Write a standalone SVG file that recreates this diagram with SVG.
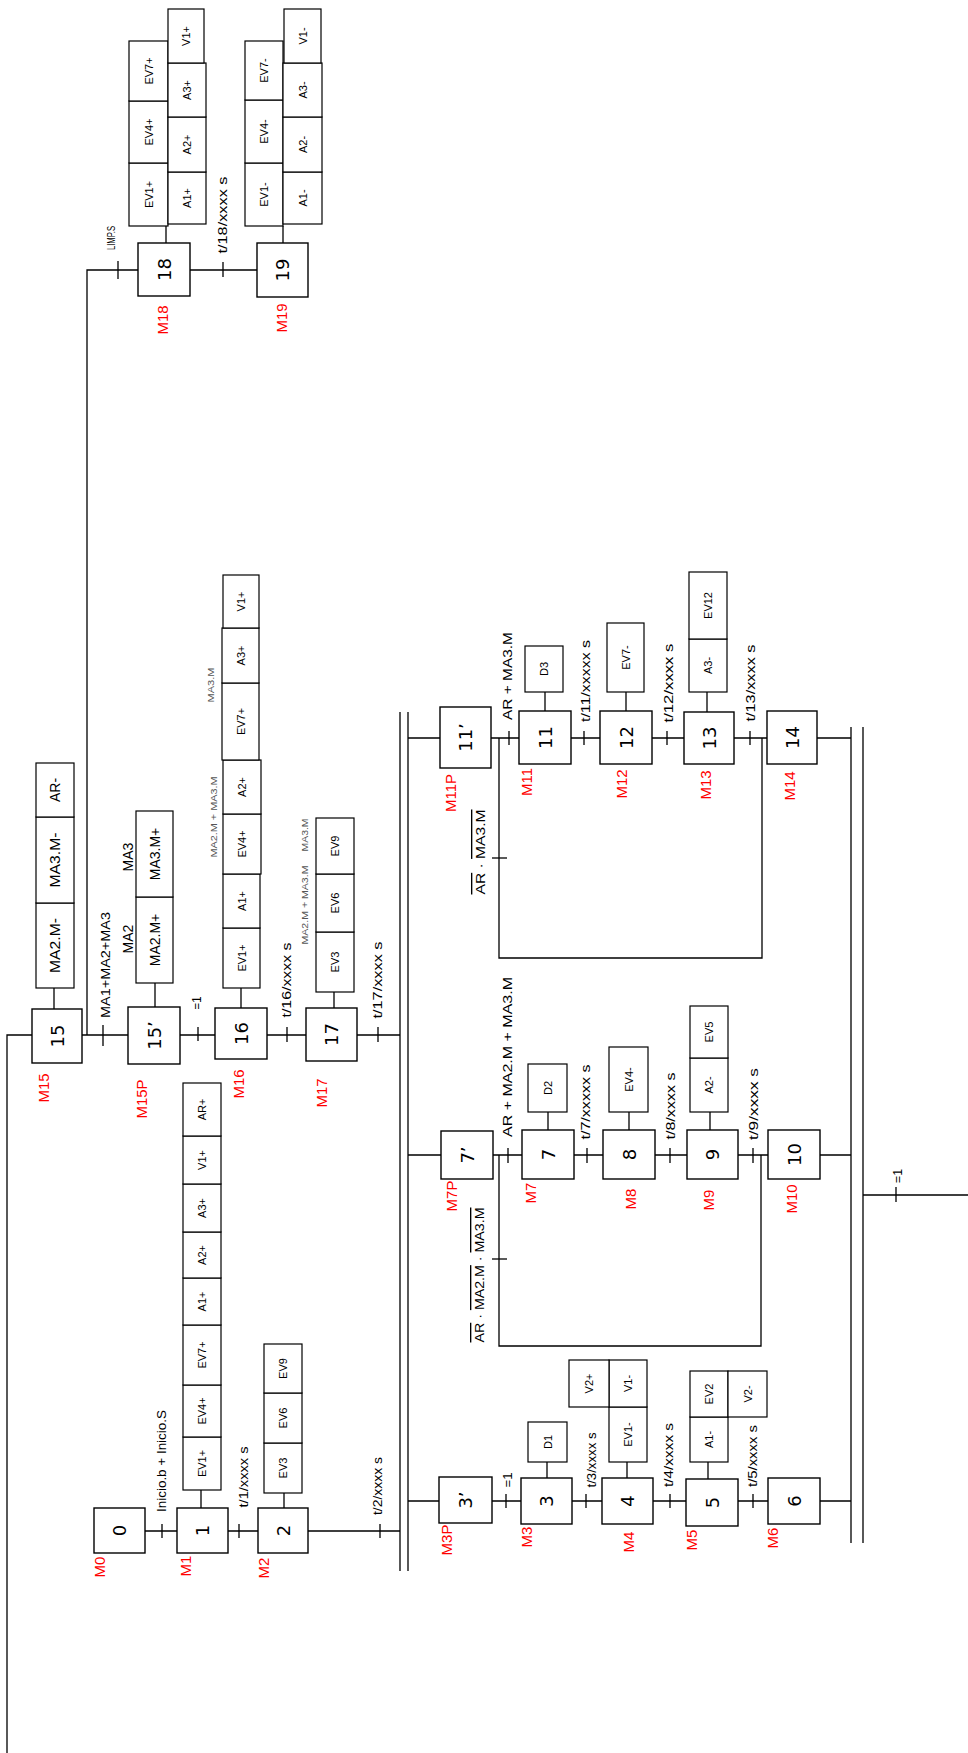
<svg xmlns="http://www.w3.org/2000/svg" width="968" height="1753" viewBox="0 0 968 1753">
<style>
.bg{fill:#fff}
.s{fill:#fff;stroke:#000;stroke-width:1.4}
.a{fill:#fff;stroke:#000;stroke-width:1.2}
.l{fill:none;stroke:#000;stroke-width:1.3}
text{font-family:"Liberation Sans",Arial,sans-serif;text-anchor:middle;dominant-baseline:central;fill:#000}
.n{font-family:"DejaVu Sans",sans-serif;font-size:18px}
.at{font-size:11px}
.ab{font-size:14px}
.c{font-size:13.5px}
.m{font-size:15px;fill:#ff0000}
.sm{font-size:8.5px;fill:#555}
.lp{font-size:10px}
.ov{text-decoration:overline}
</style>
<rect class="bg" x="0" y="0" width="968" height="1753"/>

<g id="connectors">
  <path class="l" d="M145,1531H177M228,1531H258M308,1531H400"/>
  <path class="l" d="M162,1524V1538M239,1524V1538M380,1524V1538"/>
  <path class="l" d="M400,712V1571M408,712V1571"/>
  <path class="l" d="M408,1501H439M492,1501H521M572,1501H602M653,1501H686M738,1501H768M820,1501H851"/>
  <path class="l" d="M506,1494V1508M586,1494V1508M670,1494V1508M753,1494V1508"/>
  <path class="l" d="M408,1155H441M493,1155H522M574,1155H603M655,1155H687M738,1155H768M820,1155H851"/>
  <path class="l" d="M508,1148V1163M587,1148V1163M670,1148V1163M753,1148V1163"/>
  <path class="l" d="M499,1155V1346H761V1155"/>
  <path class="l" d="M492,1259H507"/>
  <path class="l" d="M408,738H440M491,738H519M571,738H600M652,738H684M734,738H767M817,738H851"/>
  <path class="l" d="M509,731V745M584,731V745M667,731V745M750,731V745"/>
  <path class="l" d="M499,738V958H762V738"/>
  <path class="l" d="M492,858H507"/>
  <path class="l" d="M851,727V1543M863,727V1543"/>
  <path class="l" d="M863,1195H968M896,1187V1202"/>
  <path class="l" d="M32,1035H7V1753"/>
  <path class="l" d="M82,1035H128M180,1035H215M267,1035H306M357,1035H400"/>
  <path class="l" d="M103,1025V1046M198,1027V1041M287,1027V1042M378,1027V1042"/>
  <path class="l" d="M87,1035V270H138M118,261V279"/>
  <path class="l" d="M190,270H257M223,262V277"/>
</g>

<g id="labels">
  <text class="c" transform="translate(161,1461) rotate(-90)" textLength="102" lengthAdjust="spacingAndGlyphs">Inicio.b + Inicio.S</text>
  <text class="c" transform="translate(243,1477) rotate(-90)" textLength="61" lengthAdjust="spacingAndGlyphs">t/1/xxxx s</text>
  <text class="c" transform="translate(377,1486) rotate(-90)" textLength="58" lengthAdjust="spacingAndGlyphs">t/2/xxxx s</text>
  <text class="c" transform="translate(507,1480) rotate(-90)" textLength="15" lengthAdjust="spacingAndGlyphs">=1</text>
  <text class="c" transform="translate(591,1460) rotate(-90)" textLength="55" lengthAdjust="spacingAndGlyphs">t/3/xxxx s</text>
  <text class="c" transform="translate(668,1455) rotate(-90)" textLength="64" lengthAdjust="spacingAndGlyphs">t/4/xxxx s</text>
  <text class="c" transform="translate(752,1456) rotate(-90)" textLength="62" lengthAdjust="spacingAndGlyphs">t/5/xxxx s</text>
  <text class="c" transform="translate(897,1176) rotate(-90)" textLength="14" lengthAdjust="spacingAndGlyphs">=1</text>
  <text class="c" transform="translate(507,1057) rotate(-90)" textLength="160" lengthAdjust="spacingAndGlyphs">AR + MA2.M + MA3.M</text>
  <text class="c" transform="translate(585,1102) rotate(-90)" textLength="75" lengthAdjust="spacingAndGlyphs">t/7/xxxxx s</text>
  <text class="c" transform="translate(670,1106) rotate(-90)" textLength="67" lengthAdjust="spacingAndGlyphs">t/8/xxxx s</text>
  <text class="c" transform="translate(753,1104) rotate(-90)" textLength="72" lengthAdjust="spacingAndGlyphs">t/9/xxxx s</text>
  <text class="c" transform="translate(479,1275) rotate(-90)" textLength="135" lengthAdjust="spacingAndGlyphs"><tspan class="ov">AR</tspan> · <tspan class="ov">MA2.M</tspan> · <tspan class="ov">MA3.M</tspan></text>
  <text class="c" transform="translate(480,852) rotate(-90)" textLength="85" lengthAdjust="spacingAndGlyphs"><tspan class="ov">AR</tspan> · <tspan class="ov">MA3.M</tspan></text>
  <text class="c" transform="translate(507,676) rotate(-90)" textLength="88" lengthAdjust="spacingAndGlyphs">AR + MA3.M</text>
  <text class="c" transform="translate(585,681) rotate(-90)" textLength="82" lengthAdjust="spacingAndGlyphs">t/11/xxxxx s</text>
  <text class="c" transform="translate(668,683) rotate(-90)" textLength="79" lengthAdjust="spacingAndGlyphs">t/12/xxxx s</text>
  <text class="c" transform="translate(750,683) rotate(-90)" textLength="77" lengthAdjust="spacingAndGlyphs">t/13/xxxx s</text>
  <text class="c" transform="translate(105,965) rotate(-90)" textLength="106" lengthAdjust="spacingAndGlyphs">MA1+MA2+MA3</text>
  <text class="c" transform="translate(196,1003) rotate(-90)" textLength="13" lengthAdjust="spacingAndGlyphs">=1</text>
  <text class="c" transform="translate(286,980) rotate(-90)" textLength="75" lengthAdjust="spacingAndGlyphs">t/16/xxxx s</text>
  <text class="c" transform="translate(377,980) rotate(-90)" textLength="77" lengthAdjust="spacingAndGlyphs">t/17/xxxx s</text>
  <text class="ab" transform="translate(128,939) rotate(-90)">MA2</text>
  <text class="ab" transform="translate(128,857) rotate(-90)">MA3</text>
  <text class="sm" transform="translate(214,817) rotate(-90)" textLength="81" lengthAdjust="spacingAndGlyphs">MA2.M + MA3.M</text>
  <text class="sm" transform="translate(211,685) rotate(-90)" textLength="35" lengthAdjust="spacingAndGlyphs">MA3.M</text>
  <text class="sm" transform="translate(305,905) rotate(-90)" textLength="79" lengthAdjust="spacingAndGlyphs">MA2.M + MA3.M</text>
  <text class="sm" transform="translate(305,835) rotate(-90)" textLength="33" lengthAdjust="spacingAndGlyphs">MA3.M</text>
  <text class="lp" transform="translate(111,238) rotate(-90)" textLength="24" lengthAdjust="spacingAndGlyphs">LIMP.S</text>
  <text class="c" transform="translate(222,215) rotate(-90)" textLength="77" lengthAdjust="spacingAndGlyphs">t/18/xxxx s</text>
</g>

<g id="step0">
  <rect class="s" x="94" y="1508" width="51" height="45"/>
  <text class="n" transform="translate(119.5,1530.5) rotate(-90)">0</text>
  <text class="m" transform="translate(99,1567) rotate(-90)">M0</text>
</g>
<g id="step1">
  <rect class="s" x="177" y="1508" width="51" height="45"/>
  <text class="n" transform="translate(202.5,1530.5) rotate(-90)">1</text>
  <text class="m" transform="translate(185,1566) rotate(-90)">M1</text>
  <path class="l" d="M201,1490V1508"/>
  <rect class="a" x="183" y="1437" width="38" height="53"/><text class="at" transform="translate(202,1463.5) rotate(-90)">EV1+</text>
  <rect class="a" x="183" y="1385" width="38" height="52"/><text class="at" transform="translate(202,1411) rotate(-90)">EV4+</text>
  <rect class="a" x="183" y="1325" width="38" height="60"/><text class="at" transform="translate(202,1355) rotate(-90)">EV7+</text>
  <rect class="a" x="183" y="1278" width="38" height="47"/><text class="at" transform="translate(202,1301.5) rotate(-90)">A1+</text>
  <rect class="a" x="183" y="1232" width="38" height="46"/><text class="at" transform="translate(202,1255) rotate(-90)">A2+</text>
  <rect class="a" x="183" y="1184" width="38" height="48"/><text class="at" transform="translate(202,1208) rotate(-90)">A3+</text>
  <rect class="a" x="183" y="1136" width="38" height="48"/><text class="at" transform="translate(202,1160) rotate(-90)">V1+</text>
  <rect class="a" x="183" y="1083" width="38" height="53"/><text class="at" transform="translate(202,1109.5) rotate(-90)">AR+</text>
</g>
<g id="step2">
  <rect class="s" x="258" y="1508" width="50" height="45"/>
  <text class="n" transform="translate(283,1530.5) rotate(-90)">2</text>
  <text class="m" transform="translate(263,1568) rotate(-90)">M2</text>
  <path class="l" d="M284,1493V1508"/>
  <rect class="a" x="264" y="1443" width="38" height="50"/><text class="at" transform="translate(283,1468) rotate(-90)">EV3</text>
  <rect class="a" x="264" y="1393" width="38" height="50"/><text class="at" transform="translate(283,1418) rotate(-90)">EV6</text>
  <rect class="a" x="264" y="1344" width="38" height="49"/><text class="at" transform="translate(283,1368.5) rotate(-90)">EV9</text>
</g>
<g id="step3p">
  <rect class="s" x="439" y="1477" width="53" height="46"/>
  <text class="n" transform="translate(465.5,1500) rotate(-90)">3’</text>
  <text class="m" transform="translate(446,1540) rotate(-90)">M3P</text>
</g>
<g id="step3">
  <rect class="s" x="521" y="1478" width="51" height="46"/>
  <text class="n" transform="translate(546.5,1501) rotate(-90)">3</text>
  <text class="m" transform="translate(526,1537) rotate(-90)">M3</text>
  <path class="l" d="M547,1462V1478"/>
  <rect class="a" x="528" y="1422" width="39" height="40"/><text class="at" transform="translate(547.5,1442) rotate(-90)">D1</text>
</g>
<g id="step4">
  <rect class="s" x="602" y="1478" width="51" height="46"/>
  <text class="n" transform="translate(627.5,1501) rotate(-90)">4</text>
  <text class="m" transform="translate(628,1542) rotate(-90)">M4</text>
  <path class="l" d="M627,1462V1478"/>
  <rect class="a" x="609" y="1407" width="38" height="55"/><text class="at" transform="translate(628,1434.5) rotate(-90)">EV1-</text>
  <rect class="a" x="609" y="1360" width="38" height="47"/><text class="at" transform="translate(628,1383.5) rotate(-90)">V1-</text>
  <rect class="a" x="569" y="1360" width="40" height="47"/><text class="at" transform="translate(589,1383.5) rotate(-90)">V2+</text>
</g>
<g id="step5">
  <rect class="s" x="686" y="1479" width="52" height="47"/>
  <text class="n" transform="translate(712,1502.5) rotate(-90)">5</text>
  <text class="m" transform="translate(691,1540) rotate(-90)">M5</text>
  <path class="l" d="M708,1462V1479"/>
  <rect class="a" x="690" y="1417" width="38" height="45"/><text class="at" transform="translate(709,1439.5) rotate(-90)">A1-</text>
  <rect class="a" x="690" y="1371" width="38" height="46"/><text class="at" transform="translate(709,1394) rotate(-90)">EV2</text>
  <rect class="a" x="728" y="1371" width="39" height="46"/><text class="at" transform="translate(747.5,1394) rotate(-90)">V2-</text>
</g>
<g id="step6">
  <rect class="s" x="768" y="1478" width="52" height="46"/>
  <text class="n" transform="translate(794,1501) rotate(-90)">6</text>
  <text class="m" transform="translate(772,1538) rotate(-90)">M6</text>
</g>
<g id="step7p">
  <rect class="s" x="441" y="1131" width="52" height="48"/>
  <text class="n" transform="translate(467,1155) rotate(-90)">7’</text>
  <text class="m" transform="translate(451,1196) rotate(-90)">M7P</text>
</g>
<g id="step7">
  <rect class="s" x="522" y="1130" width="52" height="49"/>
  <text class="n" transform="translate(548,1154.5) rotate(-90)">7</text>
  <text class="m" transform="translate(530,1193) rotate(-90)">M7</text>
  <path class="l" d="M548,1112V1130"/>
  <rect class="a" x="528" y="1064" width="39" height="48"/><text class="at" transform="translate(547.5,1088) rotate(-90)">D2</text>
</g>
<g id="step8">
  <rect class="s" x="603" y="1130" width="52" height="49"/>
  <text class="n" transform="translate(629,1154.5) rotate(-90)">8</text>
  <text class="m" transform="translate(630,1199) rotate(-90)">M8</text>
  <path class="l" d="M629,1112V1130"/>
  <rect class="a" x="609" y="1047" width="39" height="65"/><text class="at" transform="translate(628.5,1079.5) rotate(-90)">EV4-</text>
</g>
<g id="step9">
  <rect class="s" x="687" y="1130" width="51" height="49"/>
  <text class="n" transform="translate(712.5,1154.5) rotate(-90)">9</text>
  <text class="m" transform="translate(708,1200) rotate(-90)">M9</text>
  <path class="l" d="M710,1112V1130"/>
  <rect class="a" x="690" y="1058" width="38" height="54"/><text class="at" transform="translate(709,1085) rotate(-90)">A2-</text>
  <rect class="a" x="690" y="1006" width="38" height="52"/><text class="at" transform="translate(709,1032) rotate(-90)">EV5</text>
</g>
<g id="step10">
  <rect class="s" x="768" y="1130" width="52" height="49"/>
  <text class="n" transform="translate(794,1154.5) rotate(-90)">10</text>
  <text class="m" transform="translate(791,1199) rotate(-90)">M10</text>
</g>
<g id="step11p">
  <rect class="s" x="440" y="707" width="51" height="61"/>
  <text class="n" transform="translate(465.5,737.5) rotate(-90)">11’</text>
  <text class="m" transform="translate(450,793) rotate(-90)">M11P</text>
</g>
<g id="step11">
  <rect class="s" x="519" y="711" width="52" height="53"/>
  <text class="n" transform="translate(545,737.5) rotate(-90)">11</text>
  <text class="m" transform="translate(526,782) rotate(-90)">M11</text>
  <path class="l" d="M545,692V711"/>
  <rect class="a" x="525" y="646" width="38" height="46"/><text class="at" transform="translate(544,669) rotate(-90)">D3</text>
</g>
<g id="step12">
  <rect class="s" x="600" y="711" width="52" height="53"/>
  <text class="n" transform="translate(626,737.5) rotate(-90)">12</text>
  <text class="m" transform="translate(621,784) rotate(-90)">M12</text>
  <path class="l" d="M626,692V711"/>
  <rect class="a" x="607" y="623" width="37" height="69"/><text class="at" transform="translate(625.5,657.5) rotate(-90)">EV7-</text>
</g>
<g id="step13">
  <rect class="s" x="684" y="712" width="50" height="52"/>
  <text class="n" transform="translate(709,738) rotate(-90)">13</text>
  <text class="m" transform="translate(705,785) rotate(-90)">M13</text>
  <path class="l" d="M707,692V712"/>
  <rect class="a" x="689" y="639" width="38" height="53"/><text class="at" transform="translate(708,665.5) rotate(-90)">A3-</text>
  <rect class="a" x="689" y="572" width="38" height="67"/><text class="at" transform="translate(708,605.5) rotate(-90)">EV12</text>
</g>
<g id="step14">
  <rect class="s" x="767" y="711" width="50" height="53"/>
  <text class="n" transform="translate(792,737.5) rotate(-90)">14</text>
  <text class="m" transform="translate(789,786) rotate(-90)">M14</text>
</g>
<g id="step15">
  <rect class="s" x="32" y="1009" width="50" height="54"/>
  <text class="n" transform="translate(57,1036) rotate(-90)">15</text>
  <text class="m" transform="translate(43,1088) rotate(-90)">M15</text>
  <path class="l" d="M54,988V1009"/>
  <rect class="a" x="36" y="903" width="38" height="85"/><text class="ab" transform="translate(55,945.5) rotate(-90)" textLength="55" lengthAdjust="spacingAndGlyphs">MA2.M-</text>
  <rect class="a" x="36" y="817" width="38" height="86"/><text class="ab" transform="translate(55,860) rotate(-90)" textLength="55" lengthAdjust="spacingAndGlyphs">MA3.M-</text>
  <rect class="a" x="36" y="763" width="38" height="54"/><text class="ab" transform="translate(55,790) rotate(-90)">AR-</text>
</g>
<g id="step15p">
  <rect class="s" x="128" y="1007" width="52" height="57"/>
  <text class="n" transform="translate(154,1035.5) rotate(-90)">15’</text>
  <text class="m" transform="translate(141,1099) rotate(-90)">M15P</text>
  <path class="l" d="M155,983V1007"/>
  <rect class="a" x="136" y="897" width="37" height="86"/><text class="ab" transform="translate(154.5,940) rotate(-90)">MA2.M+</text>
  <rect class="a" x="136" y="811" width="37" height="86"/><text class="ab" transform="translate(154.5,854) rotate(-90)">MA3.M+</text>
</g>
<g id="step16">
  <rect class="s" x="215" y="1008" width="52" height="51"/>
  <text class="n" transform="translate(241,1033.5) rotate(-90)">16</text>
  <text class="m" transform="translate(238,1084) rotate(-90)">M16</text>
  <path class="l" d="M241,988V1008"/>
  <rect class="a" x="223" y="928" width="37" height="60"/><text class="at" transform="translate(241.5,958) rotate(-90)">EV1+</text>
  <rect class="a" x="223" y="874" width="37" height="54"/><text class="at" transform="translate(241.5,901) rotate(-90)">A1+</text>
  <rect class="a" x="223" y="814" width="38" height="60"/><text class="at" transform="translate(241.5,844) rotate(-90)">EV4+</text>
  <rect class="a" x="223" y="760" width="38" height="54"/><text class="at" transform="translate(241.5,787) rotate(-90)">A2+</text>
  <rect class="a" x="222" y="683" width="37" height="77"/><text class="at" transform="translate(241,721.5) rotate(-90)">EV7+</text>
  <rect class="a" x="222" y="628" width="37" height="55"/><text class="at" transform="translate(241,655.5) rotate(-90)">A3+</text>
  <rect class="a" x="223" y="575" width="36" height="53"/><text class="at" transform="translate(241,601.5) rotate(-90)">V1+</text>
</g>
<g id="step17">
  <rect class="s" x="306" y="1008" width="51" height="53"/>
  <text class="n" transform="translate(331.5,1034.5) rotate(-90)">17</text>
  <text class="m" transform="translate(321,1093) rotate(-90)">M17</text>
  <path class="l" d="M334,992V1008"/>
  <rect class="a" x="316" y="932" width="38" height="60"/><text class="at" transform="translate(335,962) rotate(-90)">EV3</text>
  <rect class="a" x="316" y="874" width="38" height="58"/><text class="at" transform="translate(335,903) rotate(-90)">EV6</text>
  <rect class="a" x="316" y="818" width="38" height="56"/><text class="at" transform="translate(335,846) rotate(-90)">EV9</text>
</g>
<g id="step18">
  <rect class="s" x="138" y="243" width="52" height="53"/>
  <text class="n" transform="translate(164,269.5) rotate(-90)">18</text>
  <text class="m" transform="translate(162,320) rotate(-90)">M18</text>
  <path class="l" d="M166,226V243"/>
  <rect class="a" x="129" y="163" width="39" height="63"/><text class="at" transform="translate(148.5,194.5) rotate(-90)">EV1+</text>
  <rect class="a" x="129" y="101" width="39" height="62"/><text class="at" transform="translate(148.5,132) rotate(-90)">EV4+</text>
  <rect class="a" x="129" y="41" width="39" height="60"/><text class="at" transform="translate(148.5,71) rotate(-90)">EV7+</text>
  <rect class="a" x="168" y="172" width="38" height="52"/><text class="at" transform="translate(187,198) rotate(-90)">A1+</text>
  <rect class="a" x="168" y="117" width="38" height="55"/><text class="at" transform="translate(187,144.5) rotate(-90)">A2+</text>
  <rect class="a" x="168" y="63" width="38" height="54"/><text class="at" transform="translate(187,90) rotate(-90)">A3+</text>
  <rect class="a" x="168" y="9" width="36" height="54"/><text class="at" transform="translate(186,36) rotate(-90)">V1+</text>
</g>
<g id="step19">
  <rect class="s" x="257" y="243" width="51" height="54"/>
  <text class="n" transform="translate(282.5,270) rotate(-90)">19</text>
  <text class="m" transform="translate(281,318) rotate(-90)">M19</text>
  <path class="l" d="M283,226V243"/>
  <rect class="a" x="245" y="163" width="38" height="63"/><text class="at" transform="translate(264,194.5) rotate(-90)">EV1-</text>
  <rect class="a" x="245" y="100" width="38" height="63"/><text class="at" transform="translate(264,131.5) rotate(-90)">EV4-</text>
  <rect class="a" x="245" y="41" width="38" height="59"/><text class="at" transform="translate(264,70.5) rotate(-90)">EV7-</text>
  <rect class="a" x="283" y="172" width="39" height="52"/><text class="at" transform="translate(302.5,198) rotate(-90)">A1-</text>
  <rect class="a" x="283" y="117" width="39" height="55"/><text class="at" transform="translate(302.5,144.5) rotate(-90)">A2-</text>
  <rect class="a" x="283" y="63" width="39" height="54"/><text class="at" transform="translate(302.5,90) rotate(-90)">A3-</text>
  <rect class="a" x="284" y="9" width="37" height="54"/><text class="at" transform="translate(302.5,36) rotate(-90)">V1-</text>
</g>
</svg>
